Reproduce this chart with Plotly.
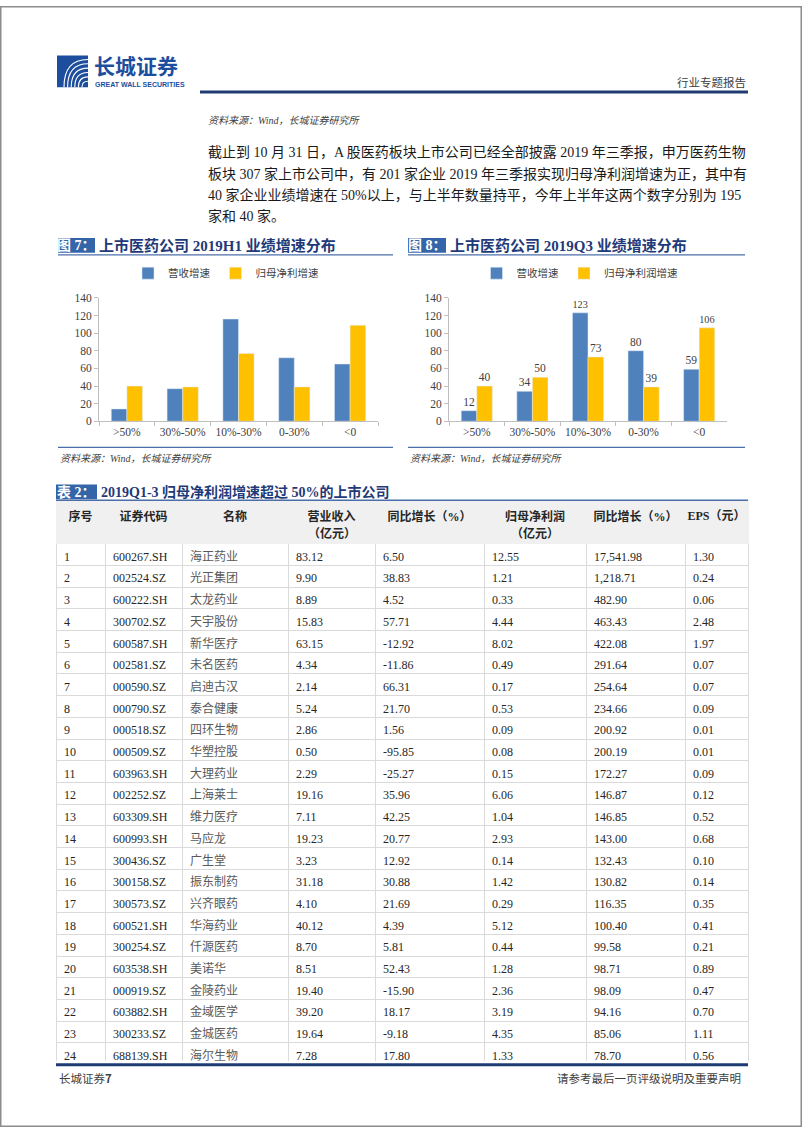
import plotly.graph_objects as go

W, H = 802, 1133

# ---------------- data ----------------
categories = [">50%", "30%-50%", "10%-30%", "0-30%", "<0"]
h1_revenue_growth = [14, 37, 116, 72, 65]
h1_profit_growth = [40, 39, 77, 39, 109]
q3_revenue_growth = [12, 34, 123, 80, 59]
q3_profit_growth = [40, 50, 73, 39, 106]

seq = ["1", "2", "3", "4", "5", "6", "7", "8", "9", "10", "11", "12",
       "13", "14", "15", "16", "17", "18", "19", "20", "21", "22", "23", "24"]
codes = ["600267.SH", "002524.SZ", "600222.SH", "300702.SZ", "600587.SH", "002581.SZ",
         "000590.SZ", "000790.SZ", "000518.SZ", "000509.SZ", "603963.SH", "002252.SZ",
         "603309.SH", "600993.SH", "300436.SZ", "300158.SZ", "300573.SZ", "600521.SH",
         "300254.SZ", "603538.SH", "000919.SZ", "603882.SH", "300233.SZ", "688139.SH"]
names = ["海正药业", "光正集团", "太龙药业", "天宇股份", "新华医疗", "未名医药",
         "启迪古汉", "泰合健康", "四环生物", "华塑控股", "大理药业", "上海莱士",
         "维力医疗", "马应龙", "广生堂", "振东制药", "兴齐眼药", "华海药业",
         "仟源医药", "美诺华", "金陵药业", "金域医学", "金城医药", "海尔生物"]
revenue = [83.12, 9.90, 8.89, 15.83, 63.15, 4.34, 2.14, 5.24, 2.86, 0.50, 2.29, 19.16,
           7.11, 19.23, 3.23, 31.18, 4.10, 40.12, 8.70, 8.51, 19.40, 39.20, 19.64, 7.28]
revenue_yoy = [6.50, 38.83, 4.52, 57.71, -12.92, -11.86, 66.31, 21.70, 1.56, -95.85, -25.27, 35.96,
               42.25, 20.77, 12.92, 30.88, 21.69, 4.39, 5.81, 52.43, -15.90, 18.17, -9.18, 17.80]
profit = [12.55, 1.21, 0.33, 4.44, 8.02, 0.49, 0.17, 0.53, 0.09, 0.08, 0.15, 6.06,
          1.04, 2.93, 0.14, 1.42, 0.29, 5.12, 0.44, 1.28, 2.36, 3.19, 4.35, 1.33]
profit_yoy = [17541.98, 1218.71, 482.90, 463.43, 422.08, 291.64, 254.64, 234.66, 200.92, 200.19,
              172.27, 146.87, 146.85, 143.00, 132.43, 130.82, 116.35, 100.40, 99.58, 98.71,
              98.09, 94.16, 85.06, 78.70]
eps = [1.30, 0.24, 0.06, 2.48, 1.97, 0.07, 0.07, 0.09, 0.01, 0.01, 0.09, 0.12,
       0.52, 0.68, 0.10, 0.14, 0.35, 0.41, 0.21, 0.89, 0.47, 0.70, 1.11, 0.56]

table_header = ["<b>序号</b>", "<b>证券代码</b>", "<b>名称</b>", "<b>营业收入</b>",
                "<b>同比增长（%）</b>", "<b>归母净利润</b>", "<b>同比增长（%）</b>",
                "<b>EPS（元）</b>"]
header_unit = "<b>（亿元）</b>"

paragraph_lines = [
    "截止到 10 月 31 日，A 股医药板块上市公司已经全部披露 2019 年三季报，申万医药生物",
    "板块 307 家上市公司中，有 201 家企业 2019 年三季报实现归母净利润增速为正，其中有",
    "40 家企业业绩增速在 50%以上，与上半年数量持平，今年上半年这两个数字分别为 195",
    "家和 40 家。",
]

# ---------------- helpers ----------------
def X(p):
    return p / W


def Y(p):
    return 1 - p / H


SERIF = "Liberation Serif, Noto Sans CJK SC, serif"
CJK = "Noto Sans CJK SC, sans-serif"
NAVY = "#1F3B73"
TITLE_BLUE = "#1F3A78"
BOX_BLUE = "#3465A8"
LINE_BLUE = "#4A6FA8"
BAR_BLUE = "#4F81BD"
BAR_GOLD = "#FFC000"
AXIS_GRAY = "#BFBFBF"
TXT = "#262626"

fig = go.Figure()

# ---------------- bar charts ----------------
fig.add_trace(go.Bar(x=categories, y=h1_revenue_growth, name="营收增速", marker_color=BAR_BLUE,
                     xaxis="x", yaxis="y", legend="legend"))
fig.add_trace(go.Bar(x=categories, y=h1_profit_growth, name="归母净利增速", marker_color=BAR_GOLD,
                     xaxis="x", yaxis="y", legend="legend"))
fig.add_trace(go.Bar(x=categories, y=q3_revenue_growth, name="营收增速", marker_color=BAR_BLUE,
                     xaxis="x2", yaxis="y2", legend="legend2",
                     text=q3_revenue_growth, textposition="outside",
                     textfont=dict(family=SERIF, size=11.5, color="#404040"), cliponaxis=False))
fig.add_trace(go.Bar(x=categories, y=q3_profit_growth, name="归母净利润增速", marker_color=BAR_GOLD,
                     xaxis="x2", yaxis="y2", legend="legend2",
                     text=q3_profit_growth, textposition="outside",
                     textfont=dict(family=SERIF, size=11.5, color="#404040"), cliponaxis=False))

# ---------------- table ----------------
col_widths = [49, 77, 106, 87, 109, 102, 99, 63]
table_left, table_right = 56, 748
cell_colors = ["#262626", "#262626", "#595959", "#262626", "#262626", "#262626", "#262626", "#262626"]
fig.add_trace(go.Table(
    domain=dict(x=[X(table_left), X(table_right)], y=[Y(1066), Y(500)]),
    columnwidth=col_widths,
    header=dict(values=table_header, fill_color="#F0F0F0",
                line=dict(color="#F0F0F0", width=1), align="center",
                font=dict(family=SERIF, size=12, color=TXT), height=43),
    cells=dict(values=[seq, codes, names, revenue, revenue_yoy, profit, profit_yoy, eps],
               format=[None, None, None, ".2f", ".2f", ".2f", ",.2f", ".2f"],
               align="left", fill_color="white",
               line=dict(color="#DADADA", width=1),
               font=dict(family=SERIF, size=12, color=cell_colors), height=21.7),
))

# ---------------- axes ----------------
def xaxis_style(x0, x1, anchor):
    return dict(domain=[X(x0), X(x1)], anchor=anchor, showline=True, linecolor=AXIS_GRAY,
                linewidth=1, ticks="outside", tickson="boundaries", ticklen=4,
                tickcolor=AXIS_GRAY, showgrid=False, zeroline=False,
                tickfont=dict(family=SERIF, size=11.5, color="#404040"),
                categoryorder="array", categoryarray=categories, fixedrange=True)


def yaxis_style(anchor):
    return dict(domain=[Y(419.7), Y(295)], anchor=anchor, range=[0, 140], dtick=20,
                showline=True, linecolor=AXIS_GRAY, linewidth=1, ticks="outside",
                ticklen=4, tickcolor=AXIS_GRAY, showgrid=False, zeroline=False,
                tickfont=dict(family=SERIF, size=11.5, color="#404040"), fixedrange=True)


legend_common = dict(orientation="h", xanchor="center", yanchor="middle",
                     font=dict(family=CJK, size=10.5, color="#404040"),
                     bgcolor="rgba(0,0,0,0)", itemwidth=30, traceorder="normal")

fig.update_layout(
    width=W, height=H, margin=dict(l=0, r=0, t=0, b=0),
    paper_bgcolor="white", plot_bgcolor="white",
    font=dict(family=SERIF, color=TXT),
    barmode="group", bargap=0.44, bargroupgap=0,
    xaxis=xaxis_style(99, 378, "y"),
    yaxis=yaxis_style("x"),
    xaxis2=xaxis_style(449, 727, "y2"),
    yaxis2=yaxis_style("x2"),
    legend=dict(x=X(226), y=Y(270), **legend_common),
    legend2=dict(x=X(580), y=Y(270), **legend_common),
    showlegend=True,
)

# ---------------- decoration ----------------
shapes = []
annotations = []


def hline(x0, x1, y, color, width):
    shapes.append(dict(type="line", xref="paper", yref="paper", x0=X(x0), x1=X(x1),
                       y0=Y(y), y1=Y(y), line=dict(color=color, width=width)))


def rect(x0, y0, x1, y1, fill, line_color=None, line_width=0):
    shapes.append(dict(type="rect", xref="paper", yref="paper", x0=X(x0), x1=X(x1),
                       y0=Y(y1), y1=Y(y0), fillcolor=fill,
                       line=dict(color=line_color or fill, width=line_width), layer="below"))


def text(x, y, s, size, color=TXT, family=SERIF, xanchor="left", yanchor="middle"):
    annotations.append(dict(xref="paper", yref="paper", x=X(x), y=Y(y), text=s, showarrow=False,
                            xanchor=xanchor, yanchor=yanchor,
                            font=dict(family=family, size=size, color=color)))


# page frame
shapes.append(dict(type="rect", xref="paper", yref="paper", x0=X(0.75), x1=X(801.25),
                   y0=Y(1132.25), y1=Y(0.75), line=dict(color="#8C8C8C", width=1.5)))

# logo
rect(57, 50, 88, 82, "#1D4E9E")
for k in range(6):
    x0 = 64 + k * 3.6
    y1 = 54 + k * 4.4
    path = "M {:.5f},{:.5f} Q {:.5f},{:.5f} {:.5f},{:.5f}".format(
        X(x0), Y(82), X(x0), Y(y1), X(88), Y(y1))
    shapes.append(dict(type="path", xref="paper", yref="paper", path=path,
                       line=dict(color="white", width=1.1)))
text(92, 60, "<b>长城证券</b>", 21, color="#1D4E9E", family=CJK)
text(140, 79.5, "<b>GREAT WALL SECURITIES</b>", 7, color="#1D4E9E",
     family="Liberation Sans Narrow, Liberation Sans, Arial", xanchor="center")
text(748, 77, "行业专题报告", 11.5, color="#404040", family=CJK, xanchor="right")
hline(200, 748, 87, NAVY, 3)

# source + paragraph
text(206, 116, "<i>资料来源：Wind，长城证券研究所</i>", 10, color="#404040")
for i, line in enumerate(paragraph_lines):
    text(206, 148 + i * 21.5, line, 14, color="#1A1A1A")

# chart titles
for (bx0, bx1, tx, lx1, label, title) in [
    (58, 95, 97, 393, "图 7：", "上市医药公司 2019H1 业绩增速分布"),
    (408, 446, 448, 745, "图 8：", "上市医药公司 2019Q3 业绩增速分布"),
]:
    rect(bx0, 234.5, bx1, 249.5, BOX_BLUE)
    text((bx0 + bx1) / 2, 242, "<b>" + label + "</b>", 14, color="white", xanchor="center")
    text(tx, 242, "<b>" + title + "</b>", 15, color=TITLE_BLUE)
    hline(bx0, lx1, 251.5, LINE_BLUE, 1.2)
    hline(bx0, lx1, 446, LINE_BLUE, 1.2)
    text(bx0, 457, "<i>资料来源：Wind，长城证券研究所</i>", 10, color="#404040")

# table title
rect(56, 483.5, 97, 498.5, BOX_BLUE)
text(76.5, 491, "<b>表 2：</b>", 14, color="white", xanchor="center")
text(99, 491, "<b>2019Q1-3 归母净利润增速超过 50%的上市公司</b>", 14, color=TITLE_BLUE)
hline(56, 748, 499.5, LINE_BLUE, 1.5)

# second header line "（亿元）" under the two amount columns
bounds = [table_left]
for w in col_widths:
    bounds.append(bounds[-1] + w)
for ci in (3, 5):
    text((bounds[ci] + bounds[ci + 1]) / 2, 533, header_unit, 12, color=TXT, xanchor="center")

# footer
hline(56, 748, 1070, NAVY, 3)
text(57, 1083, "长城证券<b>7</b>", 11.5, color="#404040", family=CJK)
text(743, 1083, "请参考最后一页评级说明及重要声明", 11.5, color="#404040", family=CJK, xanchor="right")

fig.update_layout(shapes=shapes, annotations=annotations)

fig.write_html("out.html", config={"displayModeBar": False},
               post_script="document.body.style.margin='0';")
